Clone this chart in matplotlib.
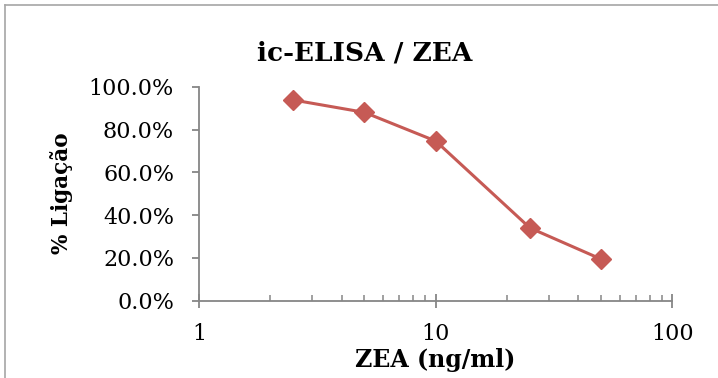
import numpy as np
import matplotlib
matplotlib.use("Agg")
import matplotlib.pyplot as plt
from matplotlib.ticker import PercentFormatter, LogLocator, NullFormatter
from matplotlib.lines import Line2D

# data
zea_conc = [2.5, 5, 10, 25, 50]          # ng/ml
ligacao = [93.8, 88.0, 74.6, 34.0, 19.4]  # %
x_ticks = [1, 10, 100]
x_tick_labels = ["1", "10", "100"]
y_ticks = [0, 20, 40, 60, 80, 100]

red = "#c65a55"
grey = "#868686"

plt.rcParams['font.family'] = ['DejaVu Serif']

fig = plt.figure(figsize=(7.18, 3.78), dpi=100)
ax = fig.add_axes([0.2772, 0.2045, 0.6594, 0.5661])

ax.plot(zea_conc, ligacao, color=red, lw=2.2, marker="D", markersize=10,
        markeredgecolor=red, markerfacecolor=red, zorder=3)

ax.set_xscale("log")
ax.set_xlim(1, 100)
ax.set_ylim(0, 100)

ax.set_xticks(x_ticks, labels=x_tick_labels)
ax.xaxis.set_minor_locator(LogLocator(base=10, subs=np.arange(2, 10)))
ax.xaxis.set_minor_formatter(NullFormatter())
ax.set_yticks(y_ticks)
ax.yaxis.set_major_formatter(PercentFormatter(xmax=100, decimals=1))

for s in ["top", "right"]:
    ax.spines[s].set_visible(False)
for s in ["left", "bottom"]:
    ax.spines[s].set_color(grey)
    ax.spines[s].set_linewidth(1.3)

ax.tick_params(axis="x", which="major", direction="inout", length=10,
               width=1.3, color=grey, pad=11, labelsize=16)
ax.tick_params(axis="x", which="minor", direction="in", length=4.5,
               width=1.1, color=grey)
ax.tick_params(axis="y", which="major", direction="out", length=5,
               width=1.3, color=grey, pad=13, labelsize=16)

fig.text(0.508, 0.841, "ic-ELISA / ZEA", ha="center", va="baseline",
         fontsize=19, fontweight="bold")
fig.text(0.606, 0.029, "ZEA (ng/ml)", ha="center", va="baseline",
         fontsize=17, fontweight="bold")
fig.text(0.085, 0.488, "% Ligação", ha="center", va="center",
         rotation=90, fontsize=15.5, fontweight="bold")

# chart frame (only top and left edges visible in the crop)
fig.add_artist(Line2D([5 / 718, 1], [1 - 5 / 378, 1 - 5 / 378],
                      transform=fig.transFigure, color="#a6a6a6", lw=1.2))
fig.add_artist(Line2D([5 / 718, 5 / 718], [0, 1 - 5 / 378],
                      transform=fig.transFigure, color="#a6a6a6", lw=1.2))

fig.savefig("out.png", dpi=100)
